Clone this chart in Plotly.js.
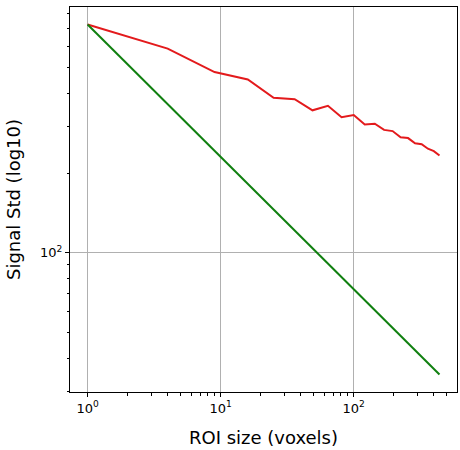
<!DOCTYPE html>
<html>
<head>
<meta charset="utf-8">
<script src="https://cdn.plot.ly/plotly-3.0.1.min.js"></script>
<style>html,body{margin:0;padding:0;background:#fff;}#chart{width:460px;height:450px;}</style>
</head>
<body>
<div id="chart"></div>
<script>
// ROI sizes (voxels): k x k square ROIs
const roiSize = [1, 4, 9, 16, 25, 36, 49, 64, 81, 100, 121, 144, 169, 196, 225, 256, 289, 324, 361, 400, 441];
// Measured signal std (red)
const measuredStd = [728, 590, 481, 451, 385, 380, 345, 359, 325, 331, 305, 307, 291, 288, 273, 271, 259, 257, 247, 242, 233];
// Ideal 1/sqrt(N) std (green)
const idealStd = [728, 364, 243, 182, 146, 121, 104, 91, 81, 72.8, 66.2, 60.7, 56.0, 52.0, 48.5, 45.5, 42.8, 40.4, 38.3, 36.4, 34.7];
const xTickVals = [1, 10, 100];
const xTickText = ['10<sup>0</sup>', '10<sup>1</sup>', '10<sup>2</sup>'];
const yTickVals = [100];
const yTickText = ['10<sup>2</sup>'];

const xMinor = [];
for (const d of [1, 10, 100]) for (let m = 2; m <= 9; m++) if (m * d <= 600) xMinor.push(m * d);
const yMinor = [];
for (const d of [10, 100]) for (let m = 2; m <= 9; m++) { const v = m * d; if (v >= 30 && v <= 840) yMinor.push(v); }

const font = {family: 'DejaVu Sans, sans-serif', color: '#000'};
const axisCommon = {
  type: 'log', showline: true, mirror: true, linecolor: '#000', linewidth: 1,
  ticks: 'outside', ticklen: 4, tickwidth: 1, tickcolor: '#000',
  showgrid: true, gridcolor: '#b0b0b0', gridwidth: 1, zeroline: false,
  tickfont: Object.assign({size: 13}, font), automargin: false
};

const traces = [
  {x: roiSize, y: measuredStd, mode: 'lines', line: {color: '#e31a1c', width: 2}, showlegend: false},
  {x: roiSize, y: idealStd, mode: 'lines', line: {color: '#108010', width: 2}, showlegend: false}
];

const layout = {
  width: 460, height: 450,
  margin: {l: 70, r: 3, t: 7, b: 58},
  paper_bgcolor: '#fff', plot_bgcolor: '#fff',
  xaxis: Object.assign({}, axisCommon, {
    range: [-0.132, 2.776], tickmode: 'array', tickvals: xTickVals, ticktext: xTickText,
    minor: {tickmode: 'array', tickvals: xMinor, ticks: 'outside', ticklen: 2.5, tickwidth: 1, tickcolor: '#000', showgrid: false},
    title: {text: 'ROI size (voxels)', font: Object.assign({size: 18}, font), standoff: 16}
  }),
  yaxis: Object.assign({}, axisCommon, {
    range: [1.474, 2.928], tickmode: 'array', tickvals: yTickVals, ticktext: yTickText,
    minor: {tickmode: 'array', tickvals: yMinor, ticks: 'outside', ticklen: 2.5, tickwidth: 1, tickcolor: '#000', showgrid: false},
    title: {text: 'Signal Std (log10)', font: Object.assign({size: 18}, font), standoff: 14}
  })
};

Plotly.newPlot('chart', traces, layout, {staticPlot: true, displayModeBar: false});
</script>
</body>
</html>
